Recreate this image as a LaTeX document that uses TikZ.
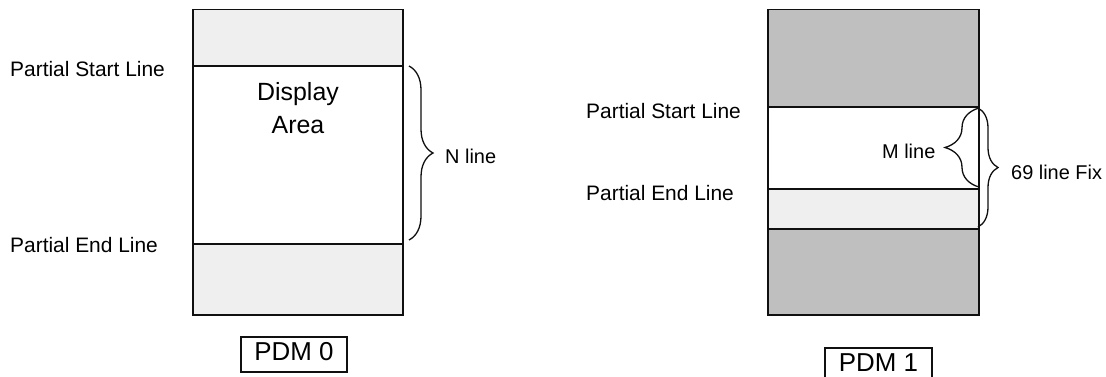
\documentclass[tikz,border=0pt]{standalone}
\usepackage{fontspec}
\setmainfont{Liberation Sans}
\usetikzlibrary{decorations.pathreplacing}
\definecolor{lightfill}{HTML}{EFEFEF}
\definecolor{darkfill}{HTML}{BFBFBF}
\definecolor{edge}{HTML}{101010}
\tikzset{
  boxline/.style={draw=edge,line width=1.6bp},
  label21/.style={anchor=base west,inner sep=0pt,font=\fontsize{21}{24}\selectfont},
  label20/.style={anchor=base west,inner sep=0pt,font=\fontsize{20}{23}\selectfont},
  areatext/.style={anchor=base,inner sep=0pt,font=\fontsize{25}{28}\selectfont},
  pdmbox/.style={draw=edge,line width=1.3bp,inner sep=0pt,minimum width=106bp,minimum height=35bp,
    text height=19bp,text depth=7bp,font=\fontsize{26}{28}\selectfont},
  bracedraw/.style={draw=edge,line width=1.3bp,decorate},
}
\begin{document}
\begin{tikzpicture}[x=1bp,y=-1bp]
\useasboundingbox (0,0) rectangle (1106,376);
\clip (0,0) rectangle (1106,376);
% ---------- left diagram (PDM 0)
\fill[lightfill] (193,9.5) rectangle (403,315);
\fill[white] (193,66) rectangle (403,244);
\draw[boxline] (193,9.5) rectangle (403,315);
\draw[boxline] (193,66) -- (403,66);
\draw[boxline] (193,244) -- (403,244);
\coordinate (nA) at (409,66);
\coordinate (nB) at (409,240);
\node[label21] (pslL) at (10,76) {Partial Start Line};
\node[label21] (pelL) at (10,252) {Partial End Line};
\node[areatext] (disp) at (298,100) {Display};
\node[areatext] (area) at (298,133) {Area};
\draw[bracedraw,decoration={brace,amplitude=24bp}] (nA) -- (nB);
\node[label20] (nline) at (445,163) {N line};
\node[pdmbox] (pdm0) at (294,354.5) {PDM 0};
% ---------- right diagram (PDM 1)
\fill[darkfill] (768,9.5) rectangle (979,315);
\fill[white] (768,107) rectangle (979,189);
\fill[lightfill] (768,189) rectangle (979,229);
\draw[boxline] (768,9.5) rectangle (979,315);
\draw[boxline] (768,107) -- (979,107);
\draw[boxline] (768,189) -- (979,189);
\draw[boxline] (768,229) -- (979,229);
\node[label21] (pslR) at (586,118) {Partial Start Line};
\node[label21] (pelR) at (586,200) {Partial End Line};
\coordinate (mA) at (979,187);
\coordinate (mB) at (979,108);
\draw[bracedraw,decoration={brace,amplitude=34bp}] (mA) -- (mB);
\node[label20] (mline) at (882,158) {M line};
\coordinate (fA) at (978,108);
\coordinate (fB) at (978,227);
\draw[bracedraw,decoration={brace,amplitude=20bp}] (fA) -- (fB);
\node[label20] (fix) at (1011,179) {69 line Fix};
\node[pdmbox,minimum width=107bp] (pdm1) at (878.5,365.5) {PDM 1};
\end{tikzpicture}
\end{document}
